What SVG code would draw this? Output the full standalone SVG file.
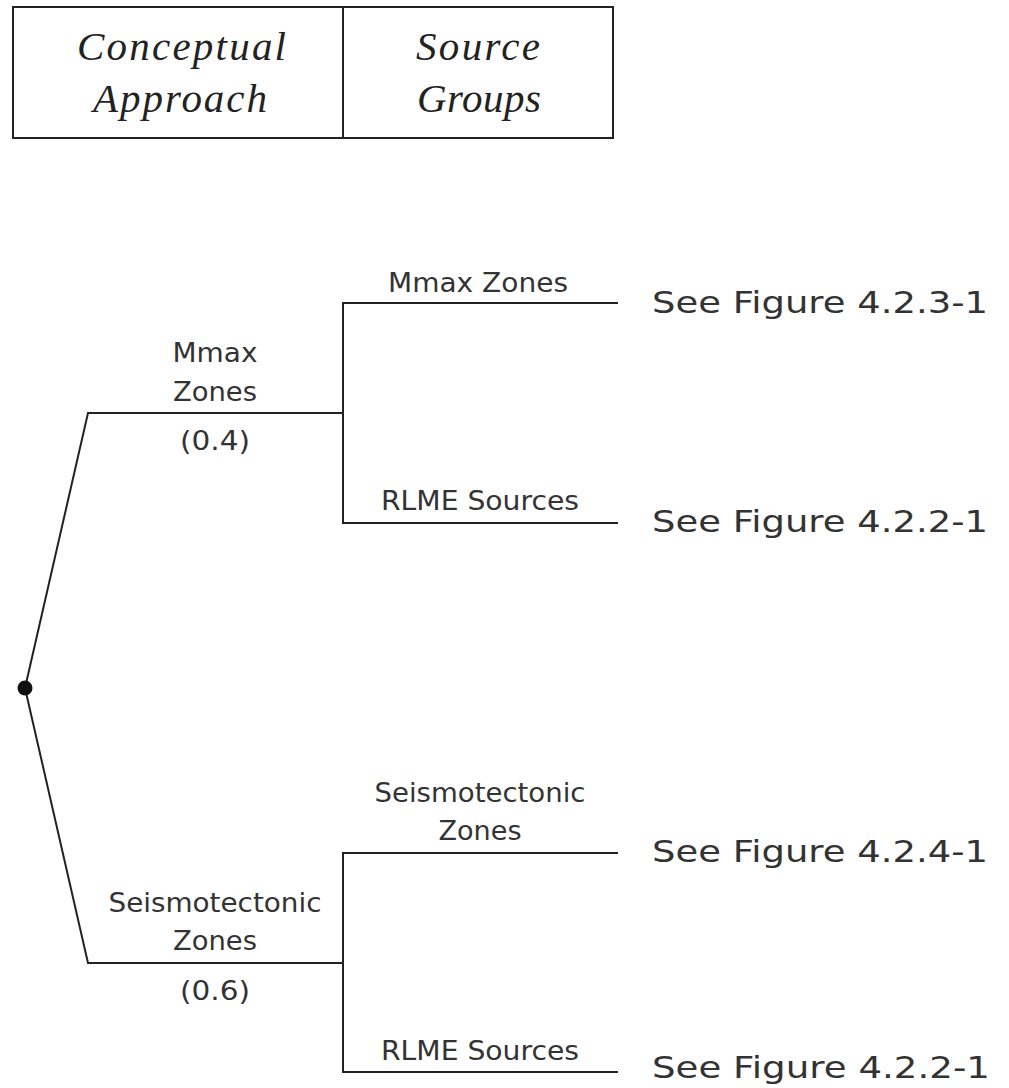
<svg xmlns="http://www.w3.org/2000/svg" width="1009" height="1088" viewBox="0 0 1009 1088">
  <style>
    .bg { fill: #ffffff; }
    .box { fill: none; stroke: #222; stroke-width: 2; }
    .ln { fill: none; stroke: #222; stroke-width: 2; stroke-linecap: square; }
    .hdr { font-family: "Liberation Serif", serif; font-style: italic; font-size: 41px; fill: #222; }
    .lbl { font-family: "DejaVu Sans", "Liberation Sans", sans-serif; font-size: 26px; fill: #333; text-anchor: middle; }
    .see { font-family: "DejaVu Sans", "Liberation Sans", sans-serif; font-size: 31px; fill: #333; }
  </style>
  <rect class="bg" x="0" y="0" width="1009" height="1088"/>

  <g id="header">
    <rect class="box" x="13" y="7" width="600" height="131"/>
    <line class="box" x1="343" y1="7" x2="343" y2="138"/>
    <g id="header-approach">
      <text class="hdr" x="77" y="60" textLength="209" lengthAdjust="spacing">Conceptual</text>
      <text class="hdr" x="93" y="112" textLength="174" lengthAdjust="spacing">Approach</text>
    </g>
    <g id="header-groups">
      <text class="hdr" x="416" y="60" textLength="124" lengthAdjust="spacing">Source</text>
      <text class="hdr" x="417" y="112" textLength="124" lengthAdjust="spacing">Groups</text>
    </g>
  </g>

  <g id="connectors">
    <polyline class="ln" points="25,688 88,413 343,413"/>
    <polyline class="ln" points="25,688 88,963 343,963"/>
    <polyline class="ln" points="617,303 343,303 343,523 617,523"/>
    <polyline class="ln" points="617,853 343,853 343,1072 617,1072"/>
  </g>

  <g id="root">
    <circle cx="25" cy="688" r="7.5" fill="#111"/>
  </g>

  <g id="branch-mmax">
    <text class="lbl" x="215" y="362" textLength="85" lengthAdjust="spacingAndGlyphs">Mmax</text>
    <text class="lbl" x="215" y="401" textLength="84" lengthAdjust="spacingAndGlyphs">Zones</text>
    <text class="lbl" x="215" y="450" textLength="70" lengthAdjust="spacingAndGlyphs">(0.4)</text>
  </g>

  <g id="branch-seismo">
    <text class="lbl" x="215" y="912" textLength="213" lengthAdjust="spacingAndGlyphs">Seismotectonic</text>
    <text class="lbl" x="215" y="950" textLength="84" lengthAdjust="spacingAndGlyphs">Zones</text>
    <text class="lbl" x="215" y="1000" textLength="70" lengthAdjust="spacingAndGlyphs">(0.6)</text>
  </g>

  <g id="leaf-mmax-zones">
    <text class="lbl" x="478" y="292" textLength="180" lengthAdjust="spacingAndGlyphs">Mmax Zones</text>
    <text class="see" x="652" y="313" textLength="336" lengthAdjust="spacingAndGlyphs">See Figure 4.2.3-1</text>
  </g>

  <g id="leaf-rlme-1">
    <text class="lbl" x="480" y="510" textLength="198" lengthAdjust="spacingAndGlyphs">RLME Sources</text>
    <text class="see" x="652" y="532" textLength="336" lengthAdjust="spacingAndGlyphs">See Figure 4.2.2-1</text>
  </g>

  <g id="leaf-seismo-zones">
    <text class="lbl" x="480" y="802" textLength="211" lengthAdjust="spacingAndGlyphs">Seismotectonic</text>
    <text class="lbl" x="480" y="840" textLength="83" lengthAdjust="spacingAndGlyphs">Zones</text>
    <text class="see" x="652" y="862" textLength="336" lengthAdjust="spacingAndGlyphs">See Figure 4.2.4-1</text>
  </g>

  <g id="leaf-rlme-2">
    <text class="lbl" x="480" y="1060" textLength="198" lengthAdjust="spacingAndGlyphs">RLME Sources</text>
    <text class="see" x="652" y="1078" textLength="338" lengthAdjust="spacingAndGlyphs">See Figure 4.2.2-1</text>
  </g>
</svg>
